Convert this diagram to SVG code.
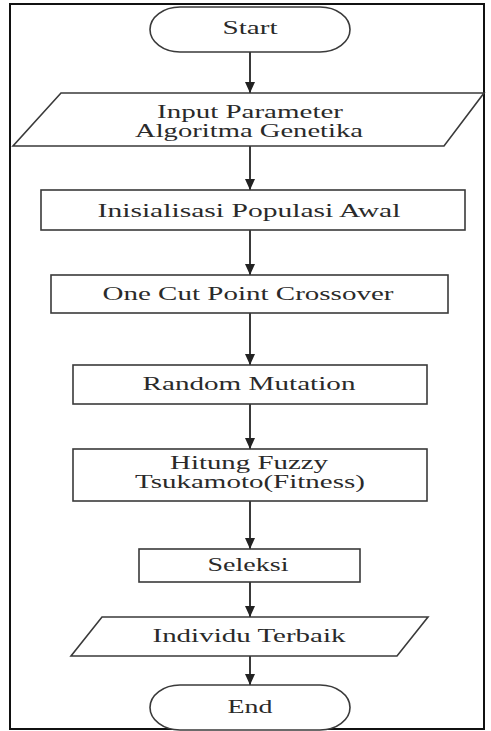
<svg xmlns="http://www.w3.org/2000/svg" width="491" height="731" viewBox="0 0 491 731">
<style>
.shape{fill:#fff;stroke:#3a3a3a;stroke-width:1.6}
.lbl{font-family:"Liberation Serif","Times New Roman",serif;font-size:19px;fill:#2a2a2a;text-anchor:middle}
.conn{stroke:#3a3a3a;stroke-width:2;fill:none;marker-end:url(#ah)}
</style>
<defs>
<marker id="ah" markerUnits="userSpaceOnUse" markerWidth="12" markerHeight="10" refX="11" refY="5" orient="auto">
<path d="M0,0 L11,5 L0,10 Z" fill="#222"/>
</marker>
</defs>
<rect x="0" y="0" width="491" height="731" fill="#fff"/>
<rect id="frame" x="10" y="4" width="474" height="725" fill="none" stroke="#111" stroke-width="2"/>
<g id="connectors">
<line class="conn" x1="250" y1="52" x2="250" y2="93"/>
<line class="conn" x1="250" y1="146" x2="250" y2="190"/>
<line class="conn" x1="250" y1="230" x2="250" y2="275"/>
<line class="conn" x1="250" y1="313" x2="250" y2="365"/>
<line class="conn" x1="250" y1="404" x2="250" y2="449"/>
<line class="conn" x1="250" y1="501" x2="250" y2="549"/>
<line class="conn" x1="250" y1="582" x2="250" y2="617"/>
<line class="conn" x1="250" y1="656" x2="250" y2="685"/>
</g>
<g id="start">
<rect class="shape" x="150" y="7" width="200" height="45" rx="30" ry="22.5"/>
<text class="lbl" transform="scale(1.52,1)" x="164.47" y="34" textLength="36.2" lengthAdjust="spacingAndGlyphs">Start</text>
</g>
<g id="input">
<polygon class="shape" points="61,93 484,93 444,146 13,146"/>
<text class="lbl" transform="scale(1.52,1)" x="164.47" y="118" textLength="122.4" lengthAdjust="spacingAndGlyphs">Input Parameter</text>
<text class="lbl" transform="scale(1.52,1)" x="163.82" y="137" textLength="150" lengthAdjust="spacingAndGlyphs">Algoritma Genetika</text>
</g>
<g id="init">
<rect class="shape" x="41" y="190" width="424" height="40"/>
<text class="lbl" transform="scale(1.52,1)" x="163.82" y="217" textLength="199.3" lengthAdjust="spacingAndGlyphs">Inisialisasi Populasi Awal</text>
</g>
<g id="crossover">
<rect class="shape" x="51" y="275" width="397" height="38"/>
<text class="lbl" transform="scale(1.52,1)" x="163.16" y="300" textLength="191.4" lengthAdjust="spacingAndGlyphs">One Cut Point Crossover</text>
</g>
<g id="mutation">
<rect class="shape" x="73" y="365" width="354" height="39"/>
<text class="lbl" transform="scale(1.52,1)" x="163.82" y="390" textLength="140.1" lengthAdjust="spacingAndGlyphs">Random Mutation</text>
</g>
<g id="fitness">
<rect class="shape" x="73" y="449" width="354" height="52"/>
<text class="lbl" transform="scale(1.52,1)" x="163.82" y="469" textLength="103.9" lengthAdjust="spacingAndGlyphs">Hitung Fuzzy</text>
<text class="lbl" transform="scale(1.52,1)" x="164.47" y="488" textLength="151.3" lengthAdjust="spacingAndGlyphs">Tsukamoto(Fitness)</text>
</g>
<g id="seleksi">
<rect class="shape" x="139" y="549" width="221" height="33"/>
<text class="lbl" transform="scale(1.52,1)" x="163.16" y="571" textLength="53.3" lengthAdjust="spacingAndGlyphs">Seleksi</text>
</g>
<g id="output">
<polygon class="shape" points="102,617 428,617 397,656 71,656"/>
<text class="lbl" transform="scale(1.52,1)" x="163.82" y="642" textLength="127" lengthAdjust="spacingAndGlyphs">Individu Terbaik</text>
</g>
<g id="end">
<rect class="shape" x="150" y="685" width="200" height="45" rx="30" ry="22.5"/>
<text class="lbl" transform="scale(1.52,1)" x="164.47" y="713" textLength="29.6" lengthAdjust="spacingAndGlyphs">End</text>
</g>
</svg>
